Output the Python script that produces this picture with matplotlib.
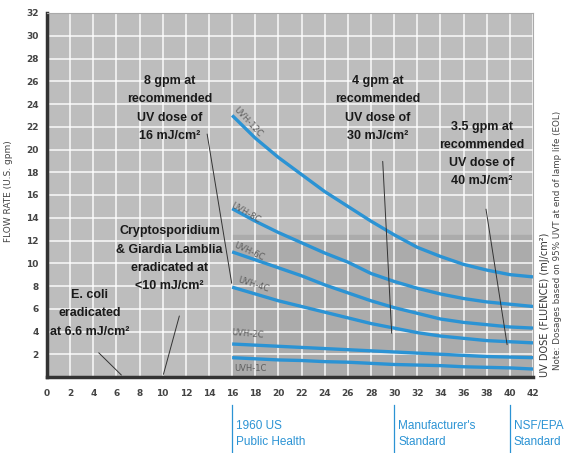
import numpy as np
import matplotlib
matplotlib.use("Agg")
import matplotlib.pyplot as plt
from matplotlib.transforms import blended_transform_factory

# dose axis (mJ/cm2) sample points for the curves
dose = [16, 18, 20, 22, 24, 26, 28, 30, 32, 34, 36, 38, 40, 42]

# flow rate (U.S. gpm) for each model
uvh_12c = [23.0, 21.0, 19.3, 17.8, 16.3, 15.0, 13.7, 12.5, 11.4, 10.6, 9.9, 9.4, 9.0, 8.8]
uvh_8c = [14.8, 13.7, 12.7, 11.8, 10.9, 10.1, 9.1, 8.4, 7.8, 7.3, 6.9, 6.6, 6.4, 6.2]
uvh_6c = [11.0, 10.3, 9.6, 8.9, 8.1, 7.4, 6.7, 6.1, 5.6, 5.1, 4.8, 4.6, 4.4, 4.3]
uvh_4c = [7.9, 7.3, 6.7, 6.2, 5.7, 5.2, 4.7, 4.3, 3.9, 3.6, 3.4, 3.2, 3.1, 3.0]
uvh_2c = [2.9, 2.8, 2.7, 2.6, 2.5, 2.4, 2.3, 2.2, 2.1, 2.0, 1.9, 1.8, 1.75, 1.7]
uvh_1c = [1.7, 1.6, 1.5, 1.45, 1.35, 1.3, 1.2, 1.1, 1.05, 1.0, 0.9, 0.85, 0.8, 0.7]

curves = [uvh_12c, uvh_8c, uvh_6c, uvh_4c, uvh_2c, uvh_1c]
curve_names = ["UVH-12C", "UVH-8C", "UVH-6C", "UVH-4C", "UVH-2C", "UVH-1C"]
# label placement (dose, flow, angle)
label_pos = [(17.4, 22.4, -47), (17.2, 14.4, -30), (17.5, 11.0, -25),
             (17.8, 8.1, -18), (17.3, 3.8, -5), (17.6, 0.75, 0)]

xticks = list(range(0, 43, 2))
yticks = list(range(2, 33, 2))

standards = [(16, "1960 US\nPublic Health"), (30, "Manufacturer's\nStandard"), (40, "NSF/EPA\nStandard")]

BOLD = ["Liberation Sans", "DejaVu Sans"]
BLUE = "#2b93d4"

fig = plt.figure(figsize=(5.75, 4.53), dpi=100)
ax = fig.add_axes([47 / 575, 76 / 453, 486 / 575, 364 / 453])
ax.set_facecolor("#bdbdbd")
ax.set_xlim(0, 42)
ax.set_ylim(0, 32)

# darker band under the treatment region
ax.axvspan(16, 42, ymin=0, ymax=12.5 / 32, color="#ababab", zorder=0)

ax.set_xticks(xticks)
ax.set_yticks(yticks)
ax.grid(True, color="white", linewidth=1.2, alpha=0.85, zorder=1)
ax.set_axisbelow(True)
ax.tick_params(axis="x", length=0, labelsize=6.5, labelcolor="#444444", pad=9)
ax.tick_params(axis="y", length=0, labelsize=6.5, labelcolor="#444444", pad=6)
for lab in ax.get_xticklabels() + ax.get_yticklabels():
    lab.set_fontweight("bold")

ax.spines["left"].set_linewidth(2.5)
ax.spines["left"].set_color("#333333")
ax.spines["bottom"].set_linewidth(2.5)
ax.spines["bottom"].set_color("#333333")
ax.spines["top"].set_color("#aaaaaa")
ax.spines["right"].set_color("#aaaaaa")

for vals, name, (lx, ly, ang) in zip(curves, curve_names, label_pos):
    ax.plot(dose, vals, color=BLUE, linewidth=2.4, zorder=3, solid_capstyle="butt")
    ax.text(lx, ly, name, rotation=ang, fontsize=6, color="#5e5e5e",
            ha="center", va="center", zorder=4)

note_kw = dict(fontsize=9, fontweight="bold", color="#1a1a1a", family=BOLD,
               ha="center", va="center", linespacing=1.7, zorder=5)
line_kw = dict(arrowstyle="-", color="#333333", lw=0.7)

ax.text(10.6, 23.6, "8 gpm at\nrecommended\nUV dose of\n16 mJ/cm\u00b2", **note_kw)
ax.annotate("", xy=(16, 8), xytext=(13.8, 21.6), arrowprops=line_kw, zorder=5)

ax.text(28.6, 23.6, "4 gpm at\nrecommended\nUV dose of\n30 mJ/cm\u00b2", **note_kw)
ax.annotate("", xy=(29.8, 3.6), xytext=(29.0, 19.2), arrowprops=line_kw, zorder=5)

ax.text(37.6, 19.6, "3.5 gpm at\nrecommended\nUV dose of\n40 mJ/cm\u00b2", **note_kw)
ax.annotate("", xy=(39.8, 2.6), xytext=(37.9, 15.0), arrowprops=line_kw, zorder=5)

ax.text(10.6, 10.4, "Cryptosporidium\n& Giardia Lamblia\neradicated at\n<10 mJ/cm\u00b2", **note_kw)
ax.annotate("", xy=(10, 0), xytext=(11.5, 5.6), arrowprops=line_kw, zorder=5)

ax.text(3.7, 5.6, "E. coli\neradicated\nat 6.6 mJ/cm\u00b2", **note_kw)
ax.annotate("", xy=(6.6, 0), xytext=(4.3, 2.3), arrowprops=line_kw, zorder=5)

ax.set_ylabel("FLOW RATE (U.S. gpm)", fontsize=6.5, color="#444444")
ax.yaxis.set_label_coords(-0.07, 0.51)

# right-side notes
fig.text(545 / 575, 1 - 377 / 453, "UV DOSE (FLUENCE) (mJ/cm\u00b2)", rotation=90,
         rotation_mode="anchor", ha="left", va="center", fontsize=7, color="#333333")
fig.text(558 / 575, 1 - 370 / 453, "Note: Dosages based on 95% UVT at end of lamp life (EOL)",
         rotation=90, rotation_mode="anchor", ha="left", va="center", fontsize=6.3,
         color="#444444")

# reference standards under the dose axis
tr = blended_transform_factory(ax.transData, fig.transFigure)
for xs, txt in standards:
    ax.plot([xs, xs], [0, 1 - 405 / 453], color=BLUE, linewidth=0.9,
            transform=tr, clip_on=False)
    ax.text(xs + 0.35, 1 - 434 / 453, txt, transform=tr, ha="left", va="center",
            fontsize=8.5, color=BLUE, linespacing=1.5, family=BOLD)

fig.savefig("out.png", dpi=100)
